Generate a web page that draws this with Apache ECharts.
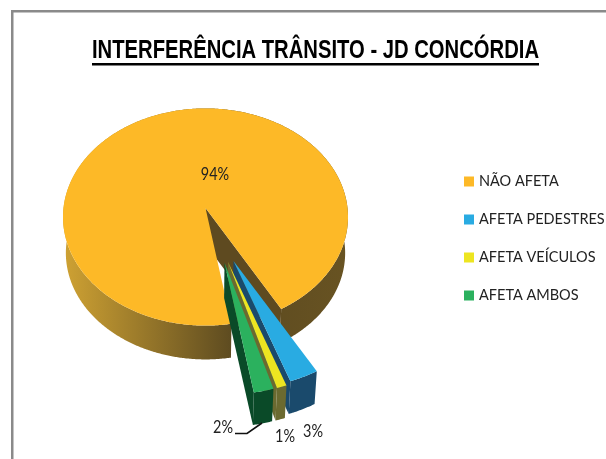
<!DOCTYPE html>
<html><head><meta charset="utf-8">
<style>html,body{margin:0;padding:0;background:#fff}#c{width:606px;height:459px}</style>
<script src="https://cdn.jsdelivr.net/npm/echarts@6/dist/echarts.min.js"></script>
</head><body><div id="c"></div>
<script>
const categories = ['NÃO AFETA', 'AFETA PEDESTRES', 'AFETA VEÍCULOS', 'AFETA AMBOS'];
const values = [94, 3, 1, 2];
const titleText = 'INTERFERÊNCIA TRÂNSITO - JD CONCÓRDIA';

const topColors = ['#FDB927', '#29ABE2', '#EDE521', '#2BB15E'];
const wallColors = ['#5E4A20', '#1A4A6C', '#6B6A30', '#0A4A28'];
const CX = 205.5, CY = 217, RX = 142.5, K = 0.762, DEPTH = 36, TAPER = 0.02, APEX_UP = 11.8;
const START = 169.5;
const explodeOffset = [[0, 0], [28, 69.5], [22.5, 71], [19, 72]];
const radiusFactor = [1, 1.1, 1.13, 1.13];
const labelAt = [[215, 175], [313, 432], [285, 437], [223, 428]];
const font = 'Lato, "Noto Sans", sans-serif';
const titleFont = 'bold 25px "Liberation Sans", sans-serif';
const TITLE_W = 447;

const total = values.reduce((a, b) => a + b, 0);
function angles(i) {
  let a = START;
  for (let k = 0; k < i; k++) a += values[k] / total * 360;
  return [a, a + values[i] / total * 360];
}
function project(u, v, z) {
  const s = 1 - z * TAPER;
  return [CX + u * s, CY + v * K * s + z * DEPTH];
}
function rad(d) { return d * Math.PI / 180; }

function renderSlice(i) {
  return function (params, api) {
    const val = api.value(0);
    const [a0, a1] = angles(i);
    const [ex, ey] = explodeOffset[i];
    const r = RX * radiusFactor[i];
    const at = (deg, z) => project(ex + r * Math.sin(rad(deg)), ey - r * Math.cos(rad(deg)), z);
    const tip = z => project(ex, ey - APEX_UP, z);
    const arc = z => { const p = []; const n = Math.ceil((a1 - a0) * 2); for (let k = 0; k <= n; k++) p.push(at(a0 + (a1 - a0) * k / n, z)); return p; };
    const top = arc(0), bottom = arc(1);
    const wallFill = i === 0
      ? new echarts.graphic.LinearGradient(0, 0, 1, 0, [
          { offset: 0, color: '#CFA233' }, { offset: 0.6, color: '#5C4A20' }, { offset: 1, color: '#685322' }])
      : wallColors[i];
    return { type: 'group', children: [
      { type: 'polygon', shape: { points: top.concat(bottom.slice().reverse()) }, style: { fill: wallFill } },
      { type: 'polygon', shape: { points: [tip(0), at(a1, 0), at(a1, 1), tip(1)] }, style: { fill: wallColors[i] } },
      { type: 'polygon', shape: { points: [tip(0)].concat(top) }, style: { fill: topColors[i] } },
      { type: 'text', x: labelAt[i][0], y: labelAt[i][1], scaleX: 0.85, style: { text: val + '%', font: '17px ' + font, fill: '#222', align: 'center', verticalAlign: 'middle' } }
    ] };
  };
}

const series = categories.map((name, i) => ({
  type: 'custom', name, coordinateSystem: 'none', z: 2 + i,
  itemStyle: { color: topColors[i] },
  data: [[values[i]]],
  renderItem: renderSlice(i),
  silent: true, animation: false
}));

const ctx = document.createElement('canvas').getContext('2d');
ctx.font = titleFont;
const titleScale = TITLE_W / ctx.measureText(titleText).width;

const chart = echarts.init(document.getElementById('c'), null, { renderer: 'canvas' });
chart.setOption({
  backgroundColor: '#fff',
  animation: false,
  legend: {
    orient: 'vertical', left: 459, top: 169, itemWidth: 10, itemHeight: 10, itemGap: 23, icon: 'rect',
    data: categories, textStyle: { fontFamily: font, fontSize: 14.5, color: '#222' }, selectedMode: false
  },
  series,
  graphic: [
    { type: 'rect', shape: { x: 11, y: 10, width: 595, height: 2.5 }, style: { fill: '#8A8A8A' }, z: 1 },
    { type: 'rect', shape: { x: 11, y: 10, width: 2.5, height: 449 }, style: { fill: '#8A8A8A' }, z: 1 },
    { type: 'text', x: 92, y: 51.5, scaleX: titleScale, style: { text: titleText, font: titleFont, fill: '#000', align: 'left', verticalAlign: 'middle' }, z: 1 },
    { type: 'rect', shape: { x: 92, y: 63, width: 447, height: 2.5 }, style: { fill: '#000' }, z: 1 },
    { type: 'polyline', shape: { points: [[235, 433.5], [247, 433.5], [262, 423]] }, style: { stroke: '#111', lineWidth: 1.6, fill: 'none' }, z: 20 }
  ]
});
</script></body></html>
